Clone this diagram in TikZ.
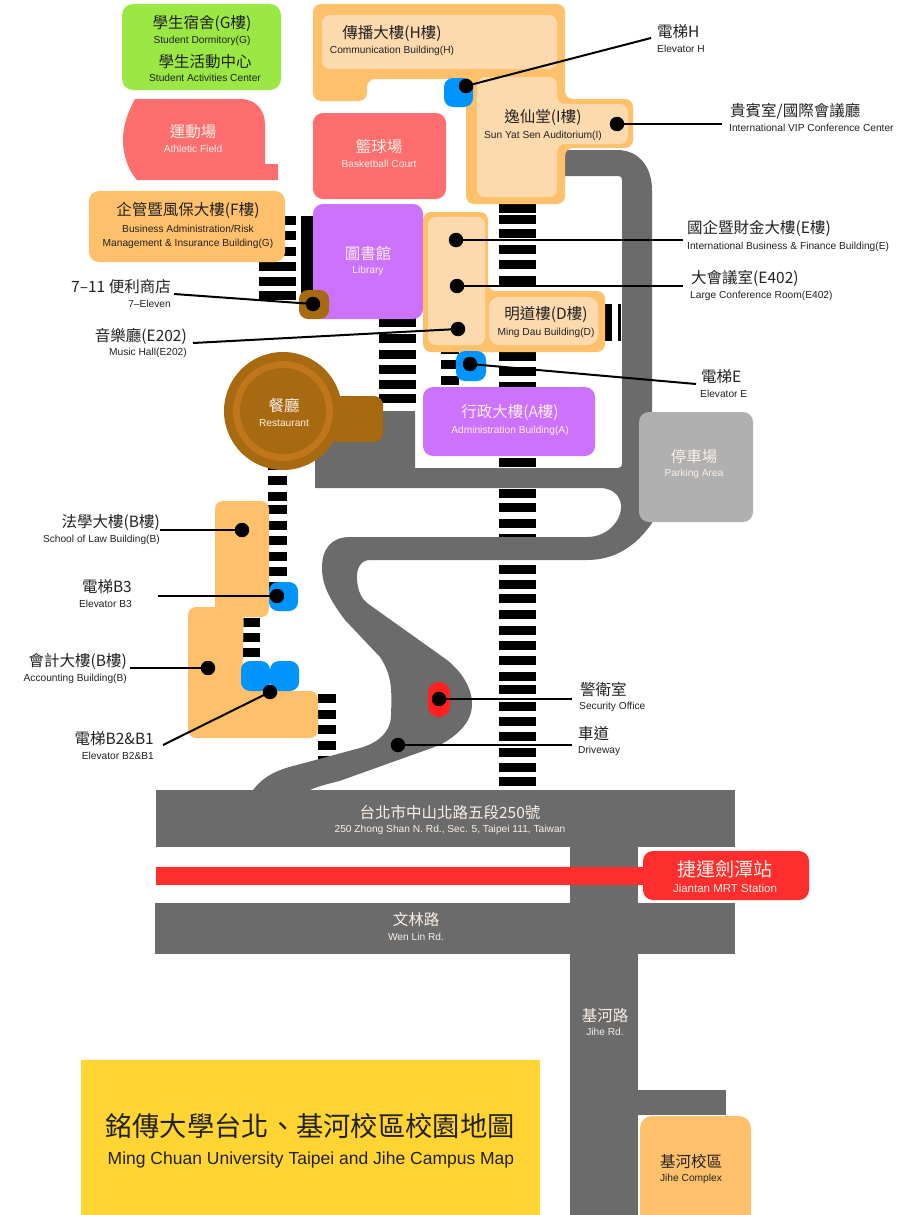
\documentclass[tikz,border=0pt]{standalone}
\usepackage{fontspec}
\setmainfont{Liberation Sans}
\newfontfamily\cjk{Noto Sans CJK TC}
\definecolor{orangeB}{HTML}{FFC06B}
\definecolor{lightB}{HTML}{FDD9AE}
\definecolor{greenB}{HTML}{9BE845}
\definecolor{redB}{HTML}{FF6E6E}
\definecolor{purpleB}{HTML}{CC72FF}
\definecolor{liftB}{HTML}{0094FF}
\definecolor{brownB}{HTML}{A86A10}
\definecolor{ringB}{HTML}{C0761A}
\definecolor{roadB}{HTML}{6B6B6B}
\definecolor{parkB}{HTML}{B0B0B0}
\definecolor{mrtB}{HTML}{FF2E2E}
\definecolor{guardB}{HTML}{FF2020}
\definecolor{yellowB}{HTML}{FFD433}
\definecolor{inkB}{HTML}{222222}
\definecolor{softB}{HTML}{FBEFE6}
\tikzset{
  cn/.style={inner sep=0pt,yshift=-0.8pt,text=inkB,font=\cjk\fontsize{15.5}{15.5}\selectfont},
  en/.style={inner sep=0pt,yshift=-1pt,text=inkB,font=\fontsize{10.2}{10.5}\selectfont},
  wh/.style={text=softB},
  dot/.style={circle,fill=black,inner sep=0pt,minimum size=14.5pt},
  lead/.style={draw=black,line width=2pt},
  rc/.style={rounded corners=8pt}
}
\newcommand\stairs[3]{\foreach \y in {#3}{\fill[black] (#1,\y) rectangle (#2,\y+9);}}
\begin{document}
\begin{tikzpicture}[x=1pt,y=-1pt]
\useasboundingbox (0,0) rectangle (918,1215);
\fill[white] (0,0) rectangle (918,1215);
\begin{scope}
\clip (0,0) rectangle (918,1215);
% stairs
\stairs{499}{536}{204,215,229,245,260,276,291,307,322,337,352,367,382,398,414,430,458,489,503,519,534,550,565,580,594,610,626,641,656,672,685,702,717,732,748,763,777}
\stairs{379}{416}{318,334,350,365,380,394}
\stairs{441}{459}{345,360,376}
\stairs{259}{296}{216,231,247,262,277,291}
\stairs{268}{287}{461,476,492,505,521,536,552,567,582}
\stairs{242}{260}{618,633,648}
\stairs{318}{336}{694,710,725,741,756}
\fill[black] (605,304) rectangle (612,341);
\fill[black] (618,304) rectangle (621,341);
\fill[black] (301,216) rectangle (314,305);
% roads
\fill[roadB] (555,150) -- (617,150) .. controls (638,150) and (652,166) .. (652,190)
  -- (652,523) .. controls (636,546) and (615,560) .. (587,560) -- (370,560)
  .. controls (360,560) and (356,570) .. (357,580)
  .. controls (358,592) and (362,599) .. (367,603)
  -- (447,660) .. controls (462,672) and (472,688) .. (472,704)
  .. controls (472,722) and (458,735) .. (440,745)
  -- (345,779) .. controls (335,783) and (323,784) .. (310,790)
  -- (253,790) .. controls (262,778) and (275,770) .. (297,765)
  -- (360,748) .. controls (378,743) and (391,732) .. (391,715)
  .. controls (392,690) and (392,675) .. (380,657)
  -- (345,620) .. controls (330,600) and (322,585) .. (322,568)
  .. controls (322,548) and (332,537) .. (350,537)
  -- (587,537) .. controls (608,537) and (622,520) .. (621,505)
  .. controls (620,495) and (612,488) .. (600,488)
  -- (315,488) -- (315,411) -- (415,411) -- (415,468) -- (618,468)
  .. controls (621,468) and (622,466) .. (622,464) -- (622,180)
  .. controls (622,177) and (621,176) .. (618,176) -- (555,176) -- cycle;
\fill[roadB] (156,790) rectangle (735,847);
\fill[roadB] (155,903) rectangle (735,954);
\fill[roadB] (570,847) rectangle (638,1215);
\fill[roadB] (638,1090) rectangle (726,1115);
\fill[mrtB] (156,867) rectangle (650,885);
% buildings
\fill[greenB,rounded corners=11pt] (122,4) rectangle (281,90);
\fill[redB] (135,99) -- (240,99) .. controls (256,99) and (265,110) .. (265,125) -- (265,164) -- (278,164) -- (278,180) -- (137,180)
  .. controls (128,170) and (123,155) .. (123,140) .. controls (123,125) and (128,112) .. (135,99) -- cycle;
\fill[orangeB,rounded corners=10pt] (89,191) rectangle (285,262);
\fill[orangeB,rc] (313,4) -- (565,4) -- (565,99) -- (633,99) -- (633,148) -- (565,148) -- (565,204) -- (466,204) -- (466,79) -- (367,79) -- (367,101) -- (313,101) -- cycle;
\fill[lightB,rc] (322,15) rectangle (557,69);
\fill[lightB,rc] (477,77) -- (557,77) -- (557,104) -- (628,104) -- (628,144) -- (557,144) -- (557,197) -- (477,197) -- cycle;
\fill[redB,rounded corners=10pt] (313,113) rectangle (446,199);
\fill[purpleB,rounded corners=10pt] (313,204) rectangle (423,319);
\fill[orangeB,rc] (423,212) -- (488,212) -- (488,291) -- (605,291) -- (605,352) -- (423,352) -- cycle;
\fill[lightB,rc] (428,217) rectangle (485,345);
\fill[lightB,rounded corners=10pt] (489,297) rectangle (598,345);
\fill[purpleB,rounded corners=10pt] (423,387) rectangle (595,456);
\fill[brownB,rounded corners=9pt] (330,396) rectangle (383,442);
\fill[brownB] (283,411) circle [radius=59pt];
\fill[ringB] (283,411) circle [radius=50pt];
\fill[brownB] (283,411) circle [radius=43pt];
\fill[parkB,rounded corners=10pt] (639,412) rectangle (753,522);
\fill[orangeB,rc] (215,501) rectangle (269,617);
\fill[orangeB,rc] (188,607) -- (244,607) -- (242,691) -- (318,691) -- (318,738) -- (188,738) -- cycle;
\fill[liftB,rounded corners=9pt] (444,78) rectangle (473,107);
\fill[liftB,rounded corners=9pt] (456,351) rectangle (486,381);
\fill[liftB,rounded corners=9pt] (269,582) rectangle (298,611);
\fill[liftB,rounded corners=9pt] (241,661) rectangle (270,691);
\fill[liftB,rounded corners=9pt] (270,661) rectangle (299,691);
\fill[brownB,rounded corners=9pt] (299,290) rectangle (329,319);
\fill[guardB,rounded corners=10.5pt] (428,682) rectangle (450,717);
\fill[mrtB,rounded corners=10pt] (643,851) rectangle (809,900);
\fill[yellowB] (81,1060) rectangle (540,1215);
\fill[orangeB,rounded corners=12pt] (640,1116) rectangle (751,1230);
\end{scope}
% marker dots
\node[dot] (dH) at (466,86) {};
\node[dot] (dI) at (617,124) {};
\node[dot] (dE1) at (456,240) {};
\node[dot] (dE2) at (457,286) {};
\node[dot] (dE3) at (458,329) {};
\node[dot] (dSev) at (313,304) {};
\node[dot] (dLE) at (470,364) {};
\node[dot] (dB) at (242,530) {};
\node[dot] (dB3) at (277,596) {};
\node[dot] (dAc) at (208,668) {};
\node[dot] (dB2) at (270,692) {};
\node[dot] (dSec) at (439,699) {};
\node[dot] (dDrv) at (398,745) {};
% free ends
\coordinate (eH) at (651,38);
\coordinate (eI) at (722,124);
\coordinate (eE1) at (683,240);
\coordinate (eE2) at (683,286);
\coordinate (eE3) at (193,343);
\coordinate (eSev) at (174,294);
\coordinate (eLE) at (696,384);
\coordinate (eB) at (160,530);
\coordinate (eB3) at (158,596);
\coordinate (eAc) at (130,668);
\coordinate (eB2) at (163,745);
\coordinate (eSec) at (572,699);
\coordinate (eDrv) at (572,745);
\foreach \a/\b in {dH/eH,dI/eI,dE1/eE1,dE2/eE2,dE3/eE3,dSev/eSev,dLE/eLE,dB/eB,dB3/eB3,dAc/eAc,dB2/eB2,dSec/eSec,dDrv/eDrv}
  \draw[lead] (\a.center) -- (\b);
% labels on buildings
\node[cn] (t1) at (202,23) {學生宿舍(G樓)};
\node[en] (t2) at (202,40) {Student Dormitory(G)};
\node[cn] (t3) at (205,61) {學生活動中心};
\node[en] (t4) at (205,77) {Student Activities Center};
\node[cn,wh] (t5) at (193,131) {運動場};
\node[en,wh] (t6) at (193,148) {Athletic Field};
\node[cn,wh] (t7) at (379,146) {籃球場};
\node[en,wh] (t8) at (379,163) {Basketball Court};
\node[cn] (t9) at (188,210) {企管暨風保大樓(F樓)};
\node[en] (t10) at (188,228) {Business Administration/Risk};
\node[en] (t11) at (188,243) {Management \& Insurance Building(G)};
\node[cn] (t12) at (392,33) {傳播大樓(H樓)};
\node[en] (t13) at (392,50) {Communication Building(H)};
\node[cn] (t14) at (543,117) {逸仙堂(I樓)};
\node[en] (t15) at (543,135) {Sun Yat Sen Auditorium(I)};
\node[cn,wh] (t16) at (368,253) {圖書館};
\node[en,wh] (t17) at (368,270) {Library};
\node[cn] (t18) at (546,314) {明道樓(D樓)};
\node[en] (t19) at (546,332) {Ming Dau Building(D)};
\node[cn,wh] (t20) at (510,412) {行政大樓(A樓)};
\node[en,wh] (t21) at (510,430) {Administration Building(A)};
\node[cn,wh] (t22) at (694,456) {停車場};
\node[en,wh] (t23) at (694,473) {Parking Area};
\node[cn,wh] (t24) at (284,405) {餐廳};
\node[en,wh] (t25) at (284,422) {Restaurant};
% labels, right side
\node[cn,anchor=west] (t26) at (657,31) {電梯H};
\node[en,anchor=west] (t27) at (657,48) {Elevator H};
\node[cn,anchor=west] (t28) at (730,110) {貴賓室/國際會議廳};
\node[en,anchor=west] (t29) at (729,127) {International VIP Conference Center};
\node[cn,anchor=west] (t30) at (687,228) {國企暨財金大樓(E樓)};
\node[en,anchor=west] (t31) at (687,246) {International Business \& Finance Building(E)};
\node[cn,anchor=west] (t32) at (691,278) {大會議室(E402)};
\node[en,anchor=west] (t33) at (690,295) {Large Conference Room(E402)};
\node[cn,anchor=west] (t34) at (701,376) {電梯E};
\node[en,anchor=west] (t35) at (700,393) {Elevator E};
\node[cn,anchor=west] (t36) at (580,689) {警衛室};
\node[en,anchor=west] (t37) at (579,706) {Security Office};
\node[cn,anchor=west] (t38) at (578,733) {車道};
\node[en,anchor=west] (t39) at (578,750) {Driveway};
% labels, left side
\node[cn,anchor=east] (t40) at (171,286) {7–11 便利商店};
\node[en,anchor=east] (t41) at (171,303) {7–Eleven};
\node[cn,anchor=east] (t42) at (187,336) {音樂廳(E202)};
\node[en,anchor=east] (t43) at (187,352) {Music Hall(E202)};
\node[cn,anchor=east] (t44) at (160,522) {法學大樓(B樓)};
\node[en,anchor=east] (t45) at (160,539) {School of Law Building(B)};
\node[cn,anchor=east] (t46) at (132,586) {電梯B3};
\node[en,anchor=east] (t47) at (132,603) {Elevator B3};
\node[cn,anchor=east] (t48) at (127,661) {會計大樓(B樓)};
\node[en,anchor=east] (t49) at (127,678) {Accounting Building(B)};
\node[cn,anchor=east] (t50) at (154,738) {電梯B2\&B1};
\node[en,anchor=east] (t51) at (154,755) {Elevator B2\&B1};
% roads and stations
\node[cn,wh] (t52) at (450,812) {台北市中山北路五段250號};
\node[en,wh] (t53) at (450,829) {250 Zhong Shan N. Rd., Sec. 5, Taipei 111, Taiwan};
\node[cn,wh,font=\cjk\fontsize{19}{19}\selectfont] (t54) at (725,868) {捷運劍潭站};
\node[en,wh,font=\fontsize{11.5}{12}\selectfont] (t55) at (725,887) {Jiantan MRT Station};
\node[cn,wh] (t56) at (416,919) {文林路};
\node[en,wh] (t57) at (416,936) {Wen Lin Rd.};
\node[cn,wh] (t58) at (605,1015) {基河路};
\node[en,wh] (t59) at (605,1031) {Jihe Rd.};
\node[cn] (t60) at (691,1161) {基河校區};
\node[en] (t61) at (691,1178) {Jihe Complex};
\node[cn,font=\cjk\fontsize{27.3}{28}\selectfont] (t62) at (310,1125) {銘傳大學台北、基河校區校園地圖};
\node[en,font=\fontsize{17.5}{18}\selectfont] (t63) at (311,1159) {Ming Chuan University Taipei and Jihe Campus Map};
\end{tikzpicture}
\end{document}
